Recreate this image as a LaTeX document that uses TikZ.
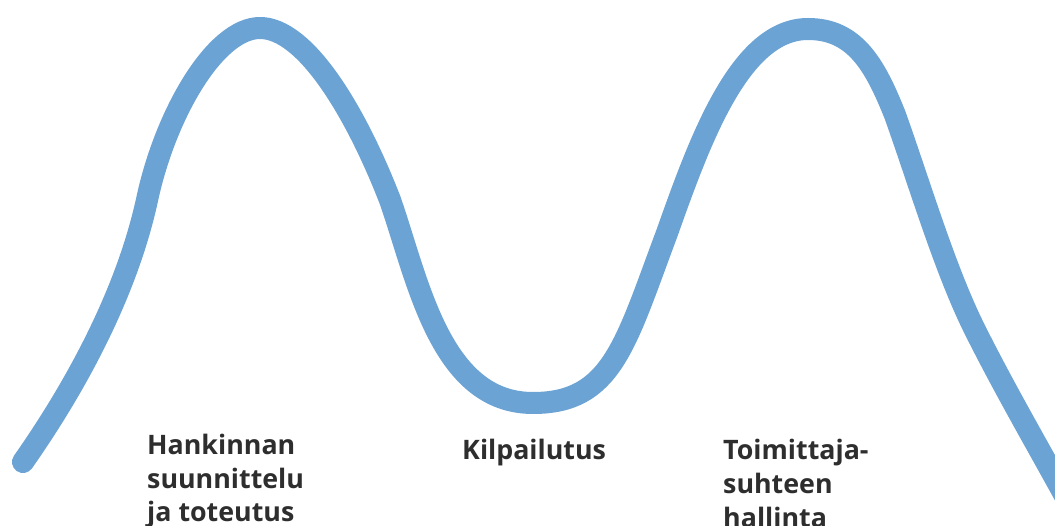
\documentclass[tikz,border=0pt]{standalone}
\usepackage{fontspec}
\newfontfamily\lblfont{Open Sans}
\definecolor{wave}{HTML}{6BA3D4}
\definecolor{txt}{HTML}{2E2E2E}
\begin{document}
\begin{tikzpicture}[x=1pt,y=-1pt,
  wavestyle/.style={draw=wave,line width=22pt,line cap=round,line join=round},
  lbl/.style={anchor=base west,inner sep=0pt,text=txt,font=\lblfont\bfseries\fontsize{26.8}{34}\selectfont}]
\useasboundingbox (0,0) rectangle (1055,526);
\clip (0,0) rectangle (1055,526);
\fill[white] (0,0) rectangle (1055,526);
\coordinate (s) at (23,462);
\coordinate (e) at (1070,505);
\draw[wavestyle] (s)
  .. controls (70,395) and (125,300) .. (147,200)
  .. controls (165,115) and (215,28) .. (260,28)
  .. controls (305,28) and (355,110) .. (390,200)
  .. controls (418,280) and (440,403) .. (533,403)
  .. controls (612,403) and (625,345) .. (667,233)
  .. controls (700,140) and (740,29) .. (808,29)
  .. controls (855,29) and (875,65) .. (895,115)
  .. controls (920,185) and (945,270) .. (975,330)
  .. controls (1005,390) and (1040,450) .. (e);
\node[lbl] (h1) at (147,454) {Hankinnan};
\node[lbl] (h2) at (147,488) {suunnittelu};
\node[lbl] (h3) at (147,521) {ja toteutus};
\node[lbl] (k1) at (462,459) {Kilpailutus};
\node[lbl] (t1) at (723,459) {Toimittaja-};
\node[lbl] (t2) at (723,493) {suhteen};
\node[lbl] (t3) at (723,527) {hallinta};
\end{tikzpicture}
\end{document}
